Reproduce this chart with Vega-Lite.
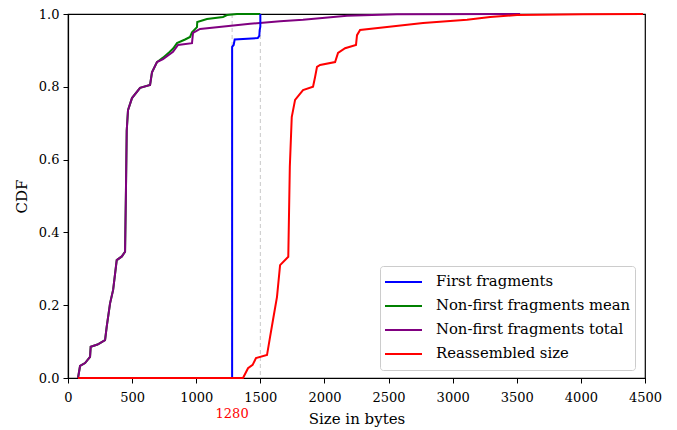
{
  "$schema": "https://vega.github.io/schema/vega-lite/v6.json",
  "width": 577,
  "height": 364,
  "autosize": {"type": "none"},
  "padding": {"left": 68, "top": 14, "right": 32, "bottom": 52},
  "background": "white",
  "config": {
    "view": {"stroke": "black", "strokeWidth": 1.2},
    "axis": {
      "grid": false,
      "domainColor": "black",
      "domainWidth": 1.2,
      "tickColor": "black",
      "tickSize": 5,
      "labelColor": "black",
      "titleColor": "black",
      "labelFont": "DejaVu Serif",
      "labelFontSize": 13,
      "titleFont": "DejaVu Serif",
      "titleFontSize": 15,
      "titleFontWeight": "normal"
    },
    "legend": {
      "labelFont": "DejaVu Serif",
      "labelFontSize": 14.8,
      "labelColor": "black",
      "labelLimit": 400
    }
  },
  "datasets": {
    "cdf": [
      {"s": "Non-first fragments total", "i": 1, "x": 78, "y": 0},
      {"s": "Non-first fragments total", "i": 2, "x": 94, "y": 0.033},
      {"s": "Non-first fragments total", "i": 3, "x": 133, "y": 0.041},
      {"s": "Non-first fragments total", "i": 4, "x": 172, "y": 0.058},
      {"s": "Non-first fragments total", "i": 5, "x": 177, "y": 0.086},
      {"s": "Non-first fragments total", "i": 6, "x": 230, "y": 0.092},
      {"s": "Non-first fragments total", "i": 7, "x": 289, "y": 0.104},
      {"s": "Non-first fragments total", "i": 8, "x": 302, "y": 0.141},
      {"s": "Non-first fragments total", "i": 9, "x": 328, "y": 0.205},
      {"s": "Non-first fragments total", "i": 10, "x": 352, "y": 0.242},
      {"s": "Non-first fragments total", "i": 11, "x": 380, "y": 0.324},
      {"s": "Non-first fragments total", "i": 12, "x": 420, "y": 0.334},
      {"s": "Non-first fragments total", "i": 13, "x": 445, "y": 0.347},
      {"s": "Non-first fragments total", "i": 14, "x": 452, "y": 0.516},
      {"s": "Non-first fragments total", "i": 15, "x": 458, "y": 0.68},
      {"s": "Non-first fragments total", "i": 16, "x": 468, "y": 0.736},
      {"s": "Non-first fragments total", "i": 17, "x": 499, "y": 0.769},
      {"s": "Non-first fragments total", "i": 18, "x": 562, "y": 0.797},
      {"s": "Non-first fragments total", "i": 19, "x": 640, "y": 0.805},
      {"s": "Non-first fragments total", "i": 20, "x": 655, "y": 0.84},
      {"s": "Non-first fragments total", "i": 21, "x": 694, "y": 0.868},
      {"s": "Non-first fragments total", "i": 22, "x": 741, "y": 0.876},
      {"s": "Non-first fragments total", "i": 23, "x": 819, "y": 0.896},
      {"s": "Non-first fragments total", "i": 24, "x": 858, "y": 0.915},
      {"s": "Non-first fragments total", "i": 25, "x": 967, "y": 0.92},
      {"s": "Non-first fragments total", "i": 26, "x": 975, "y": 0.948},
      {"s": "Non-first fragments total", "i": 27, "x": 1030, "y": 0.959},
      {"s": "Non-first fragments total", "i": 28, "x": 1420, "y": 0.973},
      {"s": "Non-first fragments total", "i": 29, "x": 1654, "y": 0.98},
      {"s": "Non-first fragments total", "i": 30, "x": 1833, "y": 0.984},
      {"s": "Non-first fragments total", "i": 31, "x": 2176, "y": 0.995},
      {"s": "Non-first fragments total", "i": 32, "x": 2566, "y": 0.999},
      {"s": "Non-first fragments total", "i": 33, "x": 3526, "y": 1.0},
      {"s": "Non-first fragments mean", "i": 1, "x": 78, "y": 0},
      {"s": "Non-first fragments mean", "i": 2, "x": 94, "y": 0.033},
      {"s": "Non-first fragments mean", "i": 3, "x": 133, "y": 0.041},
      {"s": "Non-first fragments mean", "i": 4, "x": 172, "y": 0.058},
      {"s": "Non-first fragments mean", "i": 5, "x": 177, "y": 0.086},
      {"s": "Non-first fragments mean", "i": 6, "x": 230, "y": 0.092},
      {"s": "Non-first fragments mean", "i": 7, "x": 289, "y": 0.104},
      {"s": "Non-first fragments mean", "i": 8, "x": 302, "y": 0.141},
      {"s": "Non-first fragments mean", "i": 9, "x": 328, "y": 0.205},
      {"s": "Non-first fragments mean", "i": 10, "x": 352, "y": 0.242},
      {"s": "Non-first fragments mean", "i": 11, "x": 380, "y": 0.324},
      {"s": "Non-first fragments mean", "i": 12, "x": 420, "y": 0.334},
      {"s": "Non-first fragments mean", "i": 13, "x": 445, "y": 0.347},
      {"s": "Non-first fragments mean", "i": 14, "x": 452, "y": 0.516},
      {"s": "Non-first fragments mean", "i": 15, "x": 458, "y": 0.68},
      {"s": "Non-first fragments mean", "i": 16, "x": 468, "y": 0.736},
      {"s": "Non-first fragments mean", "i": 17, "x": 499, "y": 0.769},
      {"s": "Non-first fragments mean", "i": 18, "x": 562, "y": 0.797},
      {"s": "Non-first fragments mean", "i": 19, "x": 640, "y": 0.805},
      {"s": "Non-first fragments mean", "i": 20, "x": 655, "y": 0.84},
      {"s": "Non-first fragments mean", "i": 21, "x": 694, "y": 0.868},
      {"s": "Non-first fragments mean", "i": 22, "x": 741, "y": 0.88},
      {"s": "Non-first fragments mean", "i": 23, "x": 790, "y": 0.895},
      {"s": "Non-first fragments mean", "i": 24, "x": 820, "y": 0.905},
      {"s": "Non-first fragments mean", "i": 25, "x": 850, "y": 0.92},
      {"s": "Non-first fragments mean", "i": 26, "x": 913, "y": 0.93},
      {"s": "Non-first fragments mean", "i": 27, "x": 952, "y": 0.937},
      {"s": "Non-first fragments mean", "i": 28, "x": 967, "y": 0.95},
      {"s": "Non-first fragments mean", "i": 29, "x": 1006, "y": 0.964},
      {"s": "Non-first fragments mean", "i": 30, "x": 1008, "y": 0.978},
      {"s": "Non-first fragments mean", "i": 31, "x": 1084, "y": 0.986},
      {"s": "Non-first fragments mean", "i": 32, "x": 1209, "y": 0.992},
      {"s": "Non-first fragments mean", "i": 33, "x": 1240, "y": 0.997},
      {"s": "Non-first fragments mean", "i": 34, "x": 1318, "y": 1.0},
      {"s": "Non-first fragments mean", "i": 35, "x": 1500, "y": 1.0},
      {"s": "First fragments", "i": 1, "x": 78, "y": 0},
      {"s": "First fragments", "i": 2, "x": 1280, "y": 0},
      {"s": "First fragments", "i": 3, "x": 1280, "y": 0.91},
      {"s": "First fragments", "i": 4, "x": 1292, "y": 0.915},
      {"s": "First fragments", "i": 5, "x": 1300, "y": 0.93},
      {"s": "First fragments", "i": 6, "x": 1480, "y": 0.934},
      {"s": "First fragments", "i": 7, "x": 1492, "y": 0.94},
      {"s": "First fragments", "i": 8, "x": 1495, "y": 0.956},
      {"s": "First fragments", "i": 9, "x": 1500, "y": 0.965},
      {"s": "First fragments", "i": 10, "x": 1500, "y": 1.0},
      {"s": "Reassembled size", "i": 1, "x": 78, "y": 0},
      {"s": "Reassembled size", "i": 2, "x": 1365, "y": 0},
      {"s": "Reassembled size", "i": 3, "x": 1404, "y": 0.027},
      {"s": "Reassembled size", "i": 4, "x": 1440, "y": 0.036},
      {"s": "Reassembled size", "i": 5, "x": 1466, "y": 0.055},
      {"s": "Reassembled size", "i": 6, "x": 1552, "y": 0.063},
      {"s": "Reassembled size", "i": 7, "x": 1576, "y": 0.113},
      {"s": "Reassembled size", "i": 8, "x": 1599, "y": 0.16},
      {"s": "Reassembled size", "i": 9, "x": 1630, "y": 0.223},
      {"s": "Reassembled size", "i": 10, "x": 1654, "y": 0.31},
      {"s": "Reassembled size", "i": 11, "x": 1718, "y": 0.333},
      {"s": "Reassembled size", "i": 12, "x": 1730, "y": 0.58},
      {"s": "Reassembled size", "i": 13, "x": 1745, "y": 0.717},
      {"s": "Reassembled size", "i": 14, "x": 1771, "y": 0.764},
      {"s": "Reassembled size", "i": 15, "x": 1833, "y": 0.791},
      {"s": "Reassembled size", "i": 16, "x": 1911, "y": 0.8},
      {"s": "Reassembled size", "i": 17, "x": 1927, "y": 0.827},
      {"s": "Reassembled size", "i": 18, "x": 1942, "y": 0.855},
      {"s": "Reassembled size", "i": 19, "x": 1966, "y": 0.86},
      {"s": "Reassembled size", "i": 20, "x": 2083, "y": 0.868},
      {"s": "Reassembled size", "i": 21, "x": 2106, "y": 0.893},
      {"s": "Reassembled size", "i": 22, "x": 2161, "y": 0.906},
      {"s": "Reassembled size", "i": 23, "x": 2246, "y": 0.915},
      {"s": "Reassembled size", "i": 24, "x": 2254, "y": 0.942},
      {"s": "Reassembled size", "i": 25, "x": 2278, "y": 0.956},
      {"s": "Reassembled size", "i": 26, "x": 2488, "y": 0.964},
      {"s": "Reassembled size", "i": 27, "x": 2769, "y": 0.975},
      {"s": "Reassembled size", "i": 28, "x": 3112, "y": 0.984},
      {"s": "Reassembled size", "i": 29, "x": 3292, "y": 0.992},
      {"s": "Reassembled size", "i": 30, "x": 3502, "y": 0.997},
      {"s": "Reassembled size", "i": 31, "x": 4017, "y": 0.999},
      {"s": "Reassembled size", "i": 32, "x": 4485, "y": 1.0}
    ],
    "marks": [{"x": 1280}, {"x": 1500}],
    "note": [{"x": 1280, "y": -0.11, "t": "1280"}]
  },
  "layer": [
    {
      "data": {"name": "marks"},
      "mark": {"type": "rule", "color": "#c8c8c8", "strokeDash": [4, 3], "strokeWidth": 1},
      "encoding": {
        "x": {"field": "x", "type": "quantitative", "scale": {"domain": [0, 4500], "nice": false}, "title": "Size in bytes"}
      }
    },
    {
      "data": {"name": "cdf"},
      "transform": [{"filter": "datum.s === 'Non-first fragments mean'"}],
      "mark": {"type": "line", "strokeWidth": 2, "interpolate": "linear"},
      "encoding": {
        "x": {"field": "x", "type": "quantitative", "scale": {"domain": [0, 4500], "nice": false}, "title": "Size in bytes",
          "axis": {"values": [0, 500, 1000, 1500, 2000, 2500, 3000, 3500, 4000, 4500], "format": "d", "labelPadding": 8, "titlePadding": 7, "labelFlush": false}},
        "y": {"field": "y", "type": "quantitative", "scale": {"domain": [0, 1], "nice": false}, "title": "CDF",
          "axis": {"values": [0, 0.2, 0.4, 0.6, 0.8, 1.0], "format": ".1f", "labelPadding": 4, "titlePadding": 9, "labelFlush": false}},
        "color": {
          "field": "s", "type": "nominal",
          "scale": {"domain": ["First fragments", "Non-first fragments mean", "Non-first fragments total", "Reassembled size"],
            "range": ["#0000ff", "#008000", "#800080", "#ff0000"]},
          "legend": {"title": null, "orient": "none", "legendX": 312, "legendY": 252,
            "symbolType": "stroke", "symbolSize": 1369, "symbolStrokeWidth": 2, "rowPadding": 0, "clipHeight": 24,
            "labelOffset": 13, "padding": 4, "strokeColor": "#cccccc", "fillColor": "white", "cornerRadius": 3}
        },
        "order": {"field": "i", "type": "quantitative"}
      }
    },
    {
      "data": {"name": "cdf"},
      "transform": [{"filter": "datum.s !== 'Non-first fragments mean'"}],
      "mark": {"type": "line", "strokeWidth": 2, "interpolate": "linear"},
      "encoding": {
        "x": {"field": "x", "type": "quantitative", "scale": {"domain": [0, 4500], "nice": false}, "title": "Size in bytes"},
        "y": {"field": "y", "type": "quantitative", "scale": {"domain": [0, 1], "nice": false}, "title": "CDF"},
        "color": {
          "field": "s", "type": "nominal",
          "scale": {"domain": ["First fragments", "Non-first fragments mean", "Non-first fragments total", "Reassembled size"],
            "range": ["#0000ff", "#008000", "#800080", "#ff0000"]}
        },
        "order": {"field": "i", "type": "quantitative"}
      }
    },
    {
      "data": {"name": "note"},
      "mark": {"type": "text", "color": "#ff0000", "font": "DejaVu Serif", "fontSize": 13, "baseline": "alphabetic", "align": "center"},
      "encoding": {
        "x": {"field": "x", "type": "quantitative", "scale": {"domain": [0, 4500], "nice": false}, "title": "Size in bytes"},
        "y": {"field": "y", "type": "quantitative", "scale": {"domain": [0, 1], "nice": false}, "title": "CDF"},
        "text": {"field": "t"}
      }
    }
  ]
}
